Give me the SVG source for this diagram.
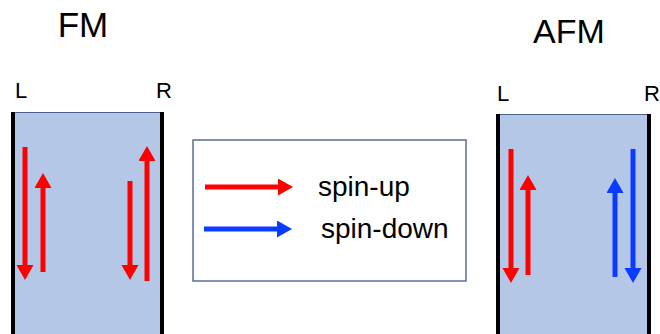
<svg xmlns="http://www.w3.org/2000/svg" width="660" height="334" viewBox="0 0 660 334">
  <style>
    .title { font-family: "Liberation Sans", Arial, sans-serif; fill: #000; text-anchor: middle; }
    .side { font-family: "Liberation Sans", Arial, sans-serif; font-size: 22px; fill: #000; }
    .legend { font-family: "Liberation Sans", Arial, sans-serif; font-size: 28px; fill: #000; }
    .panel { fill: #b4c7e7; }
    .edge { stroke: #4a6090; stroke-width: 1; }
    .wall { fill: #000; }
    .up { stroke: #ff0000; stroke-width: 5; fill: none; }
    .dn { stroke: #0a3cff; stroke-width: 5; fill: none; }
  </style>
  <defs>
    <marker id="headRed" markerUnits="userSpaceOnUse" markerWidth="16" markerHeight="18" refX="0" refY="8.5" orient="auto">
      <path d="M0,0 L15,8.5 L0,17 z" fill="#ff0000"/>
    </marker>
    <marker id="headBlue" markerUnits="userSpaceOnUse" markerWidth="16" markerHeight="18" refX="0" refY="8.5" orient="auto">
      <path d="M0,0 L15,8.5 L0,17 z" fill="#0a3cff"/>
    </marker>
  </defs>

  <rect width="660" height="334" fill="#fff"/>

  <!-- ferromagnetic junction -->
  <g id="fm">
    <text class="title" x="83" y="37" font-size="35">FM</text>
    <text class="side" x="15" y="98">L</text>
    <text class="side" x="156" y="98">R</text>
    <rect class="panel" x="14" y="112" width="148" height="222"/>
    <line class="edge" x1="14" y1="112.5" x2="162" y2="112.5"/>
    <rect class="wall" x="11" y="112" width="4" height="222"/>
    <rect class="wall" x="160" y="112" width="4" height="222"/>
  </g>

  <!-- antiferromagnetic junction -->
  <g id="afm">
    <text class="title" x="569" y="43" font-size="34">AFM</text>
    <text class="side" x="497" y="101">L</text>
    <text class="side" x="644" y="101">R</text>
    <rect class="panel" x="499" y="114" width="150" height="220"/>
    <line class="edge" x1="499" y1="114.5" x2="649" y2="114.5"/>
    <rect class="wall" x="496" y="114" width="4" height="220"/>
    <rect class="wall" x="647" y="114" width="4" height="220"/>
  </g>

  <!-- legend -->
  <g id="legend">
    <rect x="193" y="140" width="273" height="141" fill="#fff" stroke="#5a6e9a" stroke-width="1.5"/>
    <text class="legend" x="318" y="196">spin-up</text>
    <text class="legend" x="321" y="238">spin-down</text>
  </g>

  <!-- spin arrows -->
  <g id="arrows">
    <line class="up" x1="205" y1="187" x2="278" y2="187" marker-end="url(#headRed)"/>
    <line class="dn" x1="204" y1="229" x2="277" y2="229" marker-end="url(#headBlue)"/>

    <line class="up" x1="25" y1="147" x2="25" y2="265" marker-end="url(#headRed)"/>
    <line class="up" x1="43" y1="272" x2="43" y2="188" marker-end="url(#headRed)"/>
    <line class="up" x1="130" y1="181" x2="130" y2="265" marker-end="url(#headRed)"/>
    <line class="up" x1="147" y1="281" x2="147" y2="161" marker-end="url(#headRed)"/>

    <line class="up" x1="511" y1="149" x2="511" y2="268" marker-end="url(#headRed)"/>
    <line class="up" x1="528" y1="275" x2="528" y2="190" marker-end="url(#headRed)"/>
    <line class="dn" x1="615" y1="277" x2="615" y2="193" marker-end="url(#headBlue)"/>
    <line class="dn" x1="633" y1="149" x2="633" y2="268" marker-end="url(#headBlue)"/>
  </g>
</svg>
